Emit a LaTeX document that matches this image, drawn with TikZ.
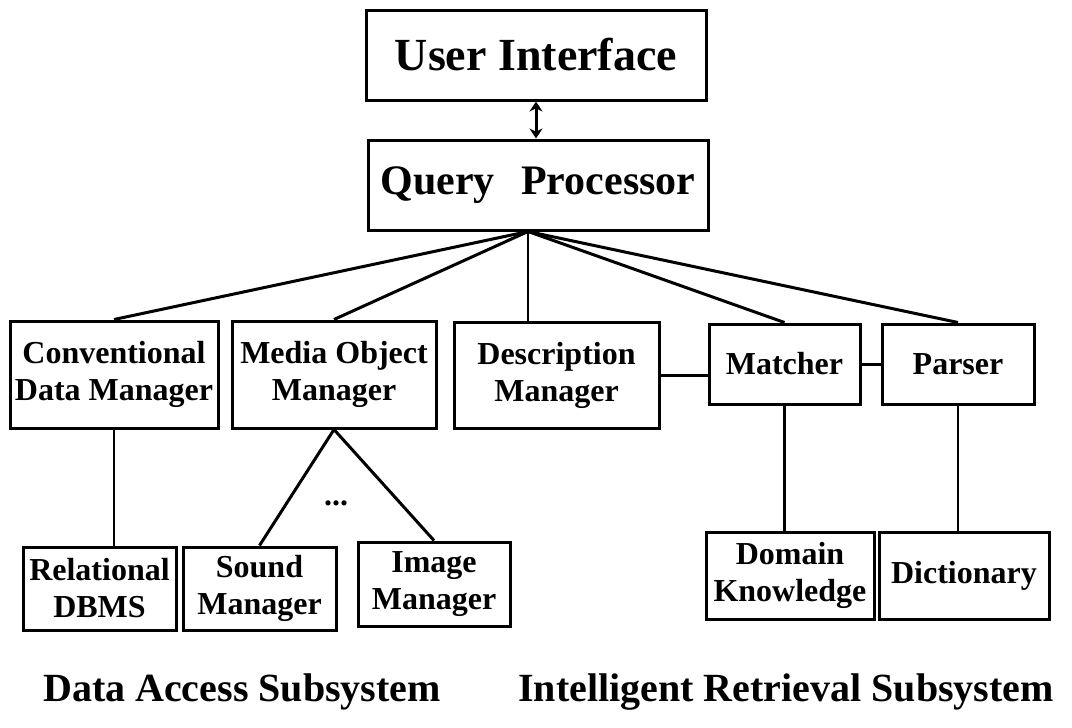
\documentclass[tikz,border=0pt]{standalone}
\usepackage{fontspec}
\setmainfont{Liberation Serif}
\usepackage{tikz}
\usetikzlibrary{arrows.meta}

\tikzset{
  module/.style={draw, line width=3pt, align=center, inner sep=0pt,
    font=\bfseries\fontsize{32}{37}\selectfont},
  link/.style={line width=3pt},
  caption/.style={font=\bfseries\fontsize{40}{44}\selectfont},
}

\begin{document}
\begin{tikzpicture}[x=1pt, y=-1pt]
\useasboundingbox (0,0) rectangle (1072,728);

% interface and query processor
\node[module, minimum width=340pt, minimum height=90pt,
  font=\bfseries\fontsize{46}{50}\selectfont] (ui) at (536,55) {User Interface};
\node[module, minimum width=340pt, minimum height=90pt,
  font=\bfseries\fontsize{42}{46}\selectfont] (qp) at (538,185) {Query\hspace{16pt} Processor};
\draw[link, {Stealth[length=10pt,width=13pt]}-{Stealth[length=10pt,width=13pt]}]
  (ui.south) -- (ui.south |- qp.north);

% managers under the query processor
\node[module, minimum width=208pt, minimum height=107pt] (cdm) at (114,374.5) {Conventional\\Data Manager};
\node[module, minimum width=204pt, minimum height=107pt] (mom) at (334,374.5) {Media Object\\Manager};
\node[module, minimum width=205pt, minimum height=106pt] (desc) at (556.5,375) {Description\\Manager};
\node[module, minimum width=151pt, minimum height=80pt] (match) at (784.5,364) {Matcher};
\node[module, minimum width=152pt, minimum height=80pt] (parser) at (958,364) {Parser};

% lowest level
\node[module, minimum width=153pt, minimum height=83pt] (rel) at (99.5,588.5) {Relational\\DBMS};
\node[module, minimum width=153pt, minimum height=83pt] (sound) at (259.5,588.5) {Sound\\Manager};
\node[module, minimum width=152pt, minimum height=84pt] (image) at (434,584) {Image\\Manager};
\node[module, minimum width=168pt, minimum height=87pt] (dom) at (790,575.5) {Domain\\Knowledge};
\node[module, minimum width=170pt, minimum height=87pt] (dict) at (964,575.5) {Dictionary};
\node[font=\bfseries\fontsize{32}{37}\selectfont] (more) at (336,503) {...};

% fan out from the query processor
\coordinate (hub) at ([xshift=-10pt]qp.south);
\foreach \m in {cdm, mom, match, parser} {
  \draw[link] (hub) -- (\m.north);
}
\draw[link, line width=2.5pt] (hub) -- (hub |- desc.north);

\draw[link] (desc.east) -- (desc.east -| match.west);
\draw[link] (match.east) -- (parser.west);

\draw[link, line width=2.5pt] (cdm.south) -- (cdm.south |- rel.north);
\draw[link] (mom.south) -- (sound.north);
\draw[link] (mom.south) -- (image.north);
\draw[link, line width=2.5pt] (match.south) -- (match.south |- dom.north);
\draw[link, line width=2.5pt] (parser.south) -- (parser.south |- dict.north);

% subsystem names
\node[caption] (das) at (242,692) {Data Access Subsystem};
\node[caption] (irs) at (786,692) {Intelligent Retrieval Subsystem};
\end{tikzpicture}
\end{document}
